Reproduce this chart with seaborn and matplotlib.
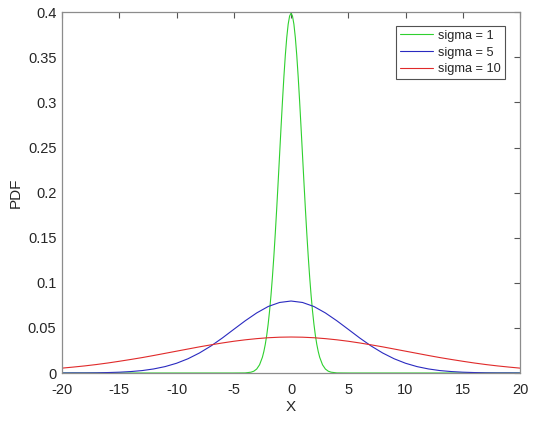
import numpy as np
import pandas as pd
import matplotlib
matplotlib.use("Agg")
import matplotlib.pyplot as plt
import seaborn as sns

# values (right half, curves are mirror images)
x_s1_half = [0, 0.125, 0.25, 0.375, 0.5, 0.625, 0.75, 0.875, 1, 1.125, 1.25, 1.375, 1.5,
             1.625, 1.75, 1.875, 2, 2.125, 2.25, 2.375, 2.5, 2.75, 3, 3.25, 3.5, 4, 5, 20]
pdf_s1_half = [0.3989, 0.3958, 0.3867, 0.3719, 0.3521, 0.3282, 0.3011, 0.2720, 0.2420, 0.2119,
               0.1826, 0.1550, 0.1295, 0.1066, 0.0863, 0.0688, 0.0540, 0.0417, 0.0317, 0.0238,
               0.0175, 0.0091, 0.0044, 0.0020, 0.0009, 0.0001, 0.0, 0.0]

x_wide_half = list(range(0, 21))
pdf_s5_half = [0.0798, 0.0782, 0.0737, 0.0666, 0.0579, 0.0484, 0.0388, 0.0299, 0.0222, 0.0158,
               0.0108, 0.0071, 0.0045, 0.0027, 0.0016, 0.0009, 0.0005, 0.0002, 0.0001, 0.0001, 0.0]
pdf_s10_half = [0.0399, 0.0397, 0.0391, 0.0381, 0.0368, 0.0352, 0.0333, 0.0312, 0.0290, 0.0266,
                0.0242, 0.0218, 0.0194, 0.0171, 0.0150, 0.0130, 0.0111, 0.0094, 0.0079, 0.0066, 0.0054]

labels = ["sigma = 1", "sigma = 5", "sigma = 10"]
colors = ["#2fd02f", "#2a2ac0", "#e02a2a"]


def mirror(xs, ys):
    return [-v for v in xs[:0:-1]] + xs, ys[:0:-1] + ys


x_s1, pdf_s1 = mirror(x_s1_half, pdf_s1_half)
x_wide, pdf_s5 = mirror(x_wide_half, pdf_s5_half)
_, pdf_s10 = mirror(x_wide_half, pdf_s10_half)

df = pd.concat([
    pd.DataFrame({"X": x_s1, "PDF": pdf_s1, "series": labels[0]}),
    pd.DataFrame({"X": x_wide, "PDF": pdf_s5, "series": labels[1]}),
    pd.DataFrame({"X": x_wide, "PDF": pdf_s10, "series": labels[2]}),
], ignore_index=True)

sns.set_style("white")
plt.rcParams["font.family"] = ["Liberation Sans", "DejaVu Sans"]
plt.rcParams["axes.unicode_minus"] = False

fig = plt.figure(figsize=(5.44, 4.21), dpi=100)
ax = fig.add_axes([0.114, 0.114, 0.842, 0.857])

sns.lineplot(data=df, x="X", y="PDF", hue="series", hue_order=labels,
             palette=dict(zip(labels, colors)), linewidth=0.8, sort=False,
             estimator=None, ax=ax)

ax.set_xlim(-20, 20)
ax.set_ylim(0, 0.4)
ax.set_xticks(range(-20, 21, 5))
ax.set_yticks(np.arange(0, 0.401, 0.05))
ax.set_yticklabels(["0", "0.05", "0.1", "0.15", "0.2", "0.25", "0.3", "0.35", "0.4"])
ax.set_xlabel("X", fontsize=11, color="#262626", labelpad=2)
ax.set_ylabel("PDF", fontsize=11, color="#262626", labelpad=4)

for s in ax.spines.values():
    s.set_color("#8c8c8c")
    s.set_linewidth(0.9)
ax.tick_params(direction="in", length=4, width=0.8, color="#555555",
               top=True, right=True, labelsize=10.5, labelcolor="#262626", pad=4)
ax.tick_params(axis="x", pad=7)

leg = ax.legend(loc="upper right", bbox_to_anchor=(0.967, 0.962), fontsize=9.2,
                frameon=True, fancybox=False, borderaxespad=0, handlelength=2.6,
                handletextpad=0.4, labelspacing=0.38, borderpad=0.3)
leg.get_frame().set_edgecolor("#262626")
leg.get_frame().set_linewidth(0.8)

fig.savefig("out.png", dpi=100)
